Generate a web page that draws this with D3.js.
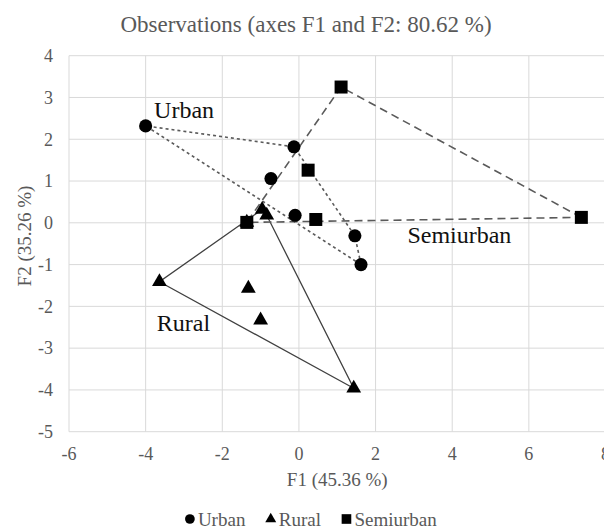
<!DOCTYPE html>
<html>
<head>
<meta charset="utf-8">
<script src="https://cdn.jsdelivr.net/npm/d3@7"></script>
<style>
  html, body { margin: 0; padding: 0; background: #fff; }
  svg { display: block; }
</style>
</head>
<body>
<svg id="chart" width="604" height="528"></svg>
<script>
// observations (F1, F2)
const urbanF1 = [-4.0, -0.13, -0.73, -0.1, 1.46, 1.62]
const urbanF2 = [2.32, 1.82, 1.06, 0.18, -0.31, -1.0]
const ruralF1 = [-1.36, -0.96, -0.84, -3.64, -1.32, -1.0, 1.43]
const ruralF2 = [0.01, 0.32, 0.18, -1.41, -1.57, -2.33, -3.96]
const semiF1 = [1.1, 0.24, 0.44, -1.36, 7.37]
const semiF2 = [3.25, 1.26, 0.08, 0.01, 0.13]

const xTicks = [-6, -4, -2, 0, 2, 4, 6, 8]
const yTicks = [-5, -4, -3, -2, -1, 0, 1, 2, 3, 4]

// group labels placed in data space
const labelNames = ['Urban', 'Semiurban', 'Rural']
const labelF1 = [-3.78, 2.83, -3.71]
const labelF2 = [2.5, -0.49, -2.59]

const textColor = '#595959'
const gridColor = '#d9d9d9'
const serif = '"Liberation Serif"'

const series = [
  { name: 'Urban', f1: urbanF1, f2: urbanF2, shape: d3.symbolCircle, size: 135, dash: '3,3', stroke: '#5a5a5a', sw: 1.6 },
  { name: 'Rural', f1: ruralF1, f2: ruralF2, shape: d3.symbolTriangle, size: 95, dash: null, stroke: '#404040', sw: 1.3 },
  { name: 'Semiurban', f1: semiF1, f2: semiF2, shape: d3.symbolSquare, size: 169, dash: '8,5', stroke: '#5a5a5a', sw: 1.6 }
]

const svg = d3.select('#chart')

const x = d3.scaleLinear().domain([-6, 8]).range([69, 605.5])
const y = d3.scaleLinear().domain([-5, 4]).range([431.7, 55.7])

// helper so every label gets the serif font inline
const txt = (sel, size, color) => sel
  .style('font-family', serif)
  .style('font-size', size + 'px')
  .attr('fill', color)

// title
svg.append('text')
  .attr('x', 306)
  .attr('y', 32)
  .attr('text-anchor', 'middle')
  .call(txt, 23, textColor)
  .text('Observations (axes F1 and F2: 80.62 %)')

// grid
const grid = svg.append('g').attr('stroke', gridColor).attr('stroke-width', 1)
grid.selectAll('.vline')
  .data(xTicks)
  .enter().append('line')
  .attr('x1', d => x(d)).attr('x2', d => x(d))
  .attr('y1', y(4)).attr('y2', y(-5))
grid.selectAll('.hline')
  .data(yTicks)
  .enter().append('line')
  .attr('x1', x(-6)).attr('x2', x(8))
  .attr('y1', d => y(d)).attr('y2', d => y(d))

// tick labels
svg.append('g').selectAll('text')
  .data(xTicks)
  .enter().append('text')
  .attr('x', d => x(d))
  .attr('y', 460)
  .attr('text-anchor', 'middle')
  .call(txt, 18, textColor)
  .text(d => d)

svg.append('g').selectAll('text')
  .data(yTicks)
  .enter().append('text')
  .attr('x', 53)
  .attr('y', d => y(d))
  .attr('dy', '0.35em')
  .attr('text-anchor', 'end')
  .call(txt, 18, textColor)
  .text(d => d)

// axis titles
svg.append('text')
  .attr('x', (x(-6) + x(8)) / 2)
  .attr('y', 486)
  .attr('text-anchor', 'middle')
  .call(txt, 19, textColor)
  .text('F1 (45.36 %)')

svg.append('text')
  .attr('transform', 'translate(31,236) rotate(-90)')
  .attr('text-anchor', 'middle')
  .call(txt, 19, textColor)
  .text('F2 (35.26 %)')

// convex hulls
const line = d3.line()
series.forEach(s => {
  const pts = s.f1.map((v, i) => [x(v), y(s.f2[i])])
  const hull = d3.polygonHull(pts)
  svg.append('path')
    .attr('d', line(hull) + 'Z')
    .attr('fill', 'none')
    .attr('stroke', s.stroke)
    .attr('stroke-width', s.sw)
    .attr('stroke-dasharray', s.dash)
})

// points
series.forEach(s => {
  svg.append('g').selectAll('path')
    .data(s.f1.map((v, i) => [v, s.f2[i]]))
    .enter().append('path')
    .attr('transform', d => `translate(${x(d[0])},${y(d[1])})`)
    .attr('d', d3.symbol().type(s.shape).size(s.size))
    .attr('fill', '#000')
})

// group labels
svg.append('g').selectAll('text')
  .data(labelNames)
  .enter().append('text')
  .attr('x', (d, i) => x(labelF1[i]))
  .attr('y', (d, i) => y(labelF2[i]))
  .call(txt, 24, '#111')
  .text(d => d)

// legend
const legend = svg.append('g')
let lx = 0
const items = legend.selectAll('g')
  .data(series)
  .enter().append('g')
items.append('path')
  .attr('d', d => d3.symbol().type(d.shape).size(d.size * 0.55)())
  .attr('fill', '#000')
items.append('text')
  .attr('x', 8)
  .attr('dy', '0.35em')
  .call(txt, 19, textColor)
  .text(d => d.name)
items.each(function () {
  d3.select(this).attr('transform', `translate(${lx},0)`)
  lx += this.getBBox().width + 20
})
const legendW = lx - 20
legend.attr('transform', `translate(${311 - legendW / 2 + 5},519)`)
</script>
</body>
</html>
